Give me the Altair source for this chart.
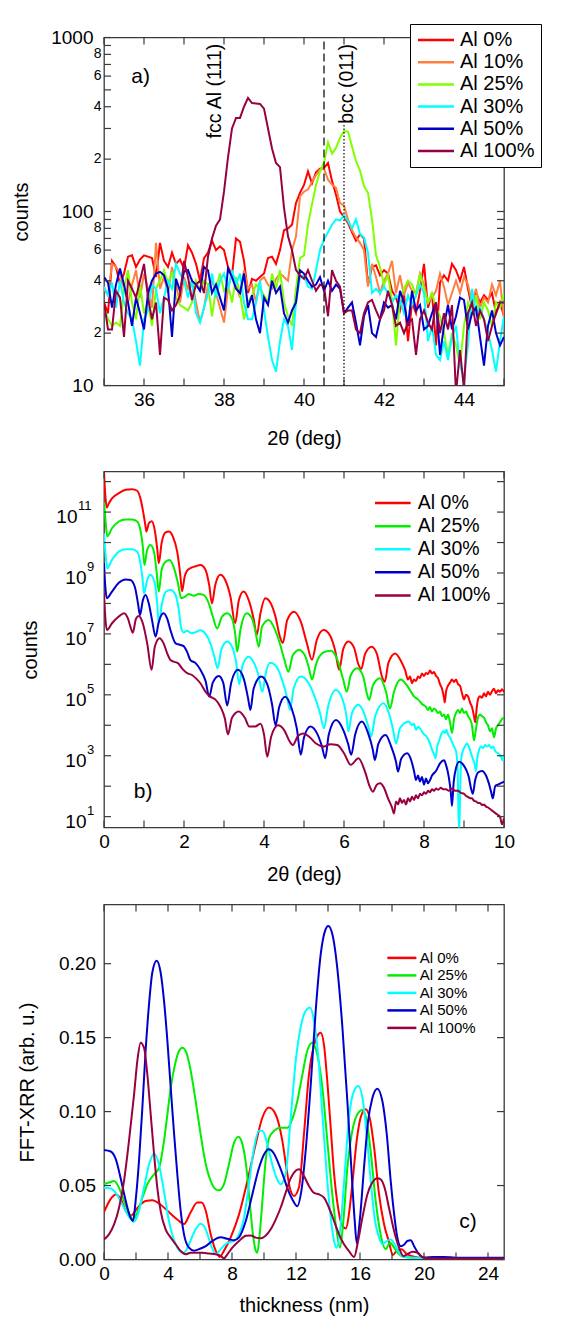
import altair as alt
import pandas as pd

FONT = "Liberation Sans"
FRAME = "#3a3a3a"
W = 400
HA, HB, HC = 348, 356, 355
TICK = 7

# ---------------- panel a : XRD around the (111)/(011) peaks ----------------
a_series = ["Al 0%", "Al 10%", "Al 25%", "Al 30%", "Al 50%", "Al 100%"]
a_colors = ["#ff0000", "#ff7f40", "#80ff00", "#00ffff", "#0000cc", "#990040"]
a_two_theta = [round(35.0 + 0.1 * i, 1) for i in range(101)]
a_al0 = [30, 26, 52, 48, 38, 44, 55, 56, 48, 53, 56, 55, 54, 42, 66, 52, 48, 58, 50, 53,
         47, 64, 58, 50, 40, 54, 58, 68, 60, 63, 60, 48, 43, 70, 67, 52, 34, 41, 40, 42,
         44, 54, 55, 50, 60, 78, 80, 84, 112, 128, 142, 170, 145, 168, 176, 178, 190, 150, 125, 100,
         93, 86, 76, 68, 74, 70, 38, 48, 49, 43, 46, 44, 35, 32, 27, 34, 18, 30, 26, 35,
         50, 28, 34, 17, 39, 43, 40, 50, 46, 40, 48, 36, 28, 34, 30, 33, 31, 34, 26, 30, 25]
a_al10 = [36, 33, 50, 48, 44, 36, 30, 38, 46, 32, 44, 36, 28, 66, 36, 42, 34, 48, 38, 30,
          42, 36, 40, 30, 23, 28, 38, 40, 34, 28, 23, 36, 44, 38, 32, 46, 36, 38, 30, 40,
          42, 38, 36, 41, 44, 42, 40, 60, 72, 122, 130, 134, 148, 162, 174, 176, 152, 143, 137, 112,
          108, 90, 78, 71, 66, 60, 37, 50, 42, 34, 40, 44, 52, 34, 43, 33, 39, 35, 34, 44,
          38, 30, 32, 35, 44, 37, 29, 34, 40, 34, 42, 38, 30, 36, 28, 32, 30, 38, 33, 40, 24]
a_al25 = [28, 24, 22, 23, 22, 36, 46, 30, 24, 38, 26, 30, 22, 36, 40, 46, 38, 45, 32, 29,
          28, 27, 30, 40, 35, 40, 38, 25, 36, 44, 35, 38, 30, 42, 34, 24, 30, 33, 38, 36,
          33, 30, 44, 36, 46, 30, 25, 22, 36, 54, 56, 84, 110, 142, 170, 190, 250, 215, 232, 265,
          290, 288, 236, 195, 172, 140, 128, 90, 56, 48, 38, 43, 31, 17, 32, 36, 40, 38, 33, 44,
          36, 30, 34, 28, 25, 20, 15, 20, 17, 13, 22, 30, 26, 33, 24, 30, 27, 22, 30, 28, 34]
a_al30 = [37, 33, 39, 28, 40, 30, 26, 24, 18, 13, 24, 27, 38, 36, 26, 32, 40, 36, 50, 44,
          40, 32, 40, 26, 23, 28, 34, 44, 32, 40, 44, 36, 46, 38, 44, 30, 24, 24, 30, 40,
          27, 19, 14, 12, 18, 24, 22, 16, 30, 42, 43, 37, 36, 46, 60, 69, 76, 84, 90, 89,
          95, 88, 80, 90, 74, 71, 58, 34, 36, 34, 37, 34, 30, 33, 31, 26, 33, 29, 33, 38,
          34, 18, 22, 15, 14, 18, 14, 19, 22, 13, 11, 17, 36, 26, 28, 24, 20, 16, 12, 18, 25]
a_al50 = [42, 39, 28, 38, 47, 38, 30, 22, 32, 26, 21, 34, 40, 44, 45, 43, 36, 19, 41, 35,
          45, 46, 40, 38, 35, 48, 46, 34, 38, 32, 27, 47, 42, 36, 34, 44, 28, 33, 24, 20,
          32, 29, 40, 34, 37, 26, 23, 27, 30, 46, 44, 40, 37, 38, 42, 35, 40, 35, 38, 36,
          26, 28, 30, 23, 17, 25, 29, 20, 19, 24, 30, 28, 29, 24, 35, 30, 22, 35, 27, 29,
          21, 22, 26, 30, 15, 22, 29, 21, 25, 32, 31, 21, 26, 28, 19, 13, 22, 27, 20, 17, 19]
a_al100 = [30, 21, 21, 35, 32, 19, 40, 36, 32, 40, 50, 32, 24, 30, 15, 32, 31, 27, 29, 33,
           52, 42, 31, 38, 40, 34, 55, 70, 83, 90, 130, 205, 300, 345, 345, 400, 450, 420, 418, 415,
           390, 300, 230, 190, 180, 105, 72, 60, 46, 43, 41, 46, 40, 35, 38, 37, 25, 46, 40, 37,
           26, 27, 27, 21, 20, 26, 30, 31, 27, 24, 27, 35, 29, 22, 23, 20, 23, 24, 15, 24,
           27, 23, 21, 30, 20, 26, 21, 29, 9, 16, 9.5, 26, 30, 22, 27, 24, 18, 22, 26, 30, 30]
a_xticks = [35, 36, 37, 38, 39, 40, 41, 42, 43, 44, 45]
a_yticks = [10, 20, 30, 40, 50, 60, 70, 80, 90, 100, 200, 300, 400, 500, 600, 700, 800, 900, 1000]
a_xlabels = [36, 38, 40, 42, 44]
a_ylabels = [10, 100, 1000]
a_minor_vals = [20, 40, 60, 80, 200, 400, 600, 800]
a_minor_text = ["2", "4", "6", "8", "2", "4", "6", "8"]
a_dash_x, a_dot_x = 40.5, 41.0

# ---------------- panel b : XRR, (2theta, log10 counts) ----------------
b_series = ["Al 0%", "Al 25%", "Al 30%", "Al 50%", "Al 100%"]
b_colors = ["#ff0000", "#00ee00", "#00ffff", "#0000cc", "#990040"]
b_al0 = [(0.0, 12.35), (0.03, 11.6), (0.07, 11.15), (0.12, 11.28), (0.2, 11.45), (0.37, 11.62), (0.54, 11.73),
         (0.7, 11.75), (0.83, 11.7), (0.91, 11.45), (0.98, 11.0), (1.03, 10.6), (1.06, 10.36), (1.12, 10.63),
         (1.19, 10.7), (1.27, 10.4), (1.33, 9.8), (1.37, 9.32), (1.44, 9.98), (1.54, 10.33), (1.62, 10.36),
         (1.72, 10.2), (1.83, 9.7), (1.91, 8.9), (1.95, 8.4), (2.02, 8.9), (2.08, 9.08), (2.16, 9.16),
         (2.29, 9.22), (2.41, 9.26), (2.54, 9.1), (2.63, 8.6), (2.7, 8.0), (2.78, 8.6), (2.91, 8.94),
         (3.03, 8.77), (3.16, 8.23), (3.28, 7.35), (3.37, 8.1), (3.49, 8.39), (3.62, 8.1), (3.74, 7.5),
         (3.82, 6.97), (3.91, 7.67), (4.03, 8.17), (4.15, 8.05), (4.28, 7.6), (4.4, 6.9), (4.47, 6.7),
         (4.58, 7.45), (4.75, 7.73), (4.92, 7.4), (5.07, 6.7), (5.2, 6.15), (5.32, 6.8), (5.49, 7.13),
         (5.65, 6.95), (5.78, 6.45), (5.88, 5.82), (5.98, 6.5), (6.11, 6.75), (6.25, 6.55), (6.36, 6.0),
         (6.43, 5.85), (6.53, 6.35), (6.69, 6.58), (6.82, 6.35), (6.95, 5.6), (7.02, 5.43), (7.11, 6.05),
         (7.28, 6.36), (7.42, 6.12), (7.53, 5.8), (7.6, 5.5), (7.65, 5.6), (7.7, 5.38), (7.75, 5.5),
         (7.8, 5.45), (7.85, 5.6), (7.9, 5.55), (7.95, 5.7), (8.0, 5.62), (8.05, 5.72), (8.1, 5.68),
         (8.15, 5.8), (8.2, 5.7), (8.25, 5.75), (8.3, 5.62), (8.35, 5.55), (8.4, 5.35), (8.45, 5.2),
         (8.5, 4.9), (8.52, 4.75), (8.55, 5.1), (8.6, 5.3), (8.65, 5.4), (8.7, 5.5), (8.75, 5.42),
         (8.8, 5.5), (8.85, 5.35), (8.9, 5.3), (8.95, 5.05), (9.0, 4.85), (9.05, 5.0), (9.1, 4.95),
         (9.15, 4.75), (9.2, 4.6), (9.25, 4.3), (9.28, 4.1), (9.32, 4.6), (9.35, 4.85), (9.4, 4.95),
         (9.45, 4.9), (9.5, 5.05), (9.55, 4.95), (9.6, 5.1), (9.65, 5.0), (9.7, 5.12), (9.75, 5.2),
         (9.8, 5.05), (9.85, 5.15), (9.9, 5.1), (9.95, 5.18), (10.0, 5.08)]
b_al25 = [(0.0, 11.34), (0.04, 10.7), (0.08, 10.2), (0.2, 10.47), (0.37, 10.69), (0.54, 10.76), (0.7, 10.76),
          (0.83, 10.69), (0.91, 10.41), (0.97, 9.87), (1.01, 9.26), (1.08, 9.76), (1.16, 9.92), (1.25, 9.7),
          (1.31, 9.1), (1.37, 8.39), (1.44, 9.1), (1.54, 9.37), (1.64, 9.43), (1.74, 9.2), (1.85, 8.66),
          (1.93, 8.17), (2.02, 8.22), (2.12, 8.31), (2.24, 8.25), (2.37, 8.31), (2.49, 8.28), (2.62, 8.0),
          (2.72, 7.57), (2.83, 7.18), (2.95, 7.57), (3.08, 7.68), (3.2, 7.5), (3.28, 7.0), (3.33, 6.42),
          (3.41, 7.13), (3.57, 7.68), (3.7, 7.5), (3.78, 7.13), (3.87, 6.58), (3.95, 7.24), (4.12, 7.46),
          (4.24, 7.24), (4.37, 6.8), (4.5, 6.2), (4.61, 5.76), (4.72, 6.3), (4.88, 6.47), (5.02, 6.3),
          (5.12, 5.9), (5.2, 5.5), (5.3, 6.0), (5.5, 6.4), (5.68, 6.45), (5.85, 6.1), (5.98, 5.5),
          (6.07, 5.1), (6.17, 5.65), (6.33, 5.87), (6.48, 5.6), (6.58, 5.0), (6.63, 4.83), (6.72, 5.3),
          (6.9, 5.54), (7.05, 5.1), (7.15, 4.55), (7.25, 5.1), (7.42, 5.5), (7.55, 5.35), (7.65, 5.15),
          (7.75, 4.95), (7.85, 4.85), (7.95, 4.7), (8.05, 4.6), (8.1, 4.5), (8.15, 4.6), (8.2, 4.45),
          (8.25, 4.55), (8.3, 4.5), (8.35, 4.4), (8.4, 4.45), (8.45, 4.3), (8.5, 4.35), (8.55, 4.2),
          (8.6, 4.35), (8.65, 4.1), (8.7, 3.75), (8.75, 4.2), (8.8, 4.4), (8.85, 4.5), (8.9, 4.4),
          (8.95, 4.55), (9.0, 4.4), (9.05, 4.45), (9.1, 4.3), (9.15, 4.2), (9.2, 4.0), (9.25, 3.5),
          (9.3, 3.9), (9.35, 4.25), (9.4, 4.35), (9.45, 4.3), (9.5, 4.25), (9.55, 4.1), (9.6, 4.0),
          (9.65, 3.8), (9.7, 3.9), (9.75, 3.6), (9.8, 3.9), (9.85, 4.0), (9.9, 4.1), (9.95, 4.2), (10.0, 4.25)]
b_al30 = [(0.0, 10.3), (0.04, 9.6), (0.08, 9.15), (0.2, 9.43), (0.37, 9.7), (0.54, 9.78), (0.7, 9.78),
          (0.83, 9.7), (0.91, 9.32), (0.97, 8.72), (1.0, 8.33), (1.08, 8.77), (1.16, 8.94), (1.27, 8.66),
          (1.33, 8.0), (1.37, 7.35), (1.45, 8.0), (1.55, 8.39), (1.66, 8.44), (1.79, 8.28), (1.87, 7.79),
          (1.93, 7.2), (1.99, 7.05), (2.08, 7.1), (2.18, 7.02), (2.29, 7.06), (2.41, 7.12), (2.54, 7.0),
          (2.66, 6.69), (2.76, 6.25), (2.84, 5.87), (2.93, 6.47), (3.08, 6.75), (3.2, 6.58), (3.3, 6.1),
          (3.38, 5.35), (3.46, 5.95), (3.62, 6.25), (3.75, 6.05), (3.85, 5.7), (3.96, 5.1), (4.05, 5.75),
          (4.16, 6.05), (4.3, 5.95), (4.45, 5.5), (4.58, 4.9), (4.65, 4.5), (4.74, 5.2), (4.92, 5.6),
          (5.08, 5.45), (5.25, 5.0), (5.4, 4.4), (5.5, 3.9), (5.6, 4.6), (5.8, 5.16), (5.95, 4.9),
          (6.05, 4.4), (6.11, 3.8), (6.2, 4.4), (6.36, 4.67), (6.5, 4.4), (6.62, 3.9), (6.68, 3.63),
          (6.78, 4.3), (6.99, 4.72), (7.12, 4.4), (7.22, 3.9), (7.3, 3.4), (7.4, 3.9), (7.62, 4.12),
          (7.7, 4.0), (7.75, 4.05), (7.8, 3.85), (7.85, 3.95), (7.9, 3.9), (7.95, 3.8), (8.0, 3.7),
          (8.05, 3.65), (8.1, 3.55), (8.15, 3.4), (8.2, 3.2), (8.25, 3.05), (8.29, 2.92), (8.33, 3.3),
          (8.38, 3.5), (8.43, 3.7), (8.48, 3.8), (8.52, 3.75), (8.56, 3.85), (8.6, 3.7), (8.65, 3.6),
          (8.7, 3.45), (8.75, 3.3), (8.8, 3.15), (8.84, 2.6), (8.86, 1.2), (8.88, 0.5), (8.9, 1.6),
          (8.93, 2.9), (8.97, 3.15), (9.02, 3.3), (9.08, 3.4), (9.12, 3.3), (9.17, 3.1), (9.22, 2.9),
          (9.27, 2.7), (9.3, 2.5), (9.33, 2.9), (9.38, 3.2), (9.43, 3.3), (9.48, 3.25), (9.53, 3.35),
          (9.58, 3.3), (9.63, 3.35), (9.68, 3.25), (9.73, 3.3), (9.78, 3.15), (9.83, 3.1), (9.88, 3.05),
          (9.93, 2.95), (9.97, 2.85), (10.0, 3.0)]
b_al50 = [(0.0, 9.32), (0.03, 8.6), (0.07, 8.17), (0.2, 8.39), (0.37, 8.68), (0.54, 8.79), (0.66, 8.77),
          (0.77, 8.55), (0.85, 8.0), (0.9, 7.62), (0.97, 8.1), (1.04, 8.28), (1.12, 8.0), (1.2, 7.46),
          (1.29, 6.91), (1.37, 7.4), (1.49, 7.68), (1.58, 7.5), (1.66, 7.13), (1.79, 6.69), (1.88, 6.65),
          (1.99, 6.6), (2.08, 6.4), (2.16, 6.14), (2.29, 6.04), (2.41, 5.82), (2.54, 5.45), (2.63, 4.94),
          (2.72, 5.4), (2.87, 5.62), (2.98, 5.4), (3.08, 4.65), (3.18, 5.4), (3.35, 5.82), (3.5, 5.5),
          (3.6, 4.9), (3.66, 4.5), (3.74, 5.2), (3.93, 5.6), (4.08, 5.35), (4.2, 4.7), (4.29, 4.0),
          (4.38, 4.6), (4.53, 4.94), (4.68, 4.6), (4.82, 3.9), (4.92, 3.03), (5.0, 3.6), (5.16, 3.96),
          (5.32, 3.75), (5.45, 3.3), (5.53, 2.92), (5.62, 3.7), (5.8, 4.17), (5.98, 3.85), (6.1, 3.4),
          (6.18, 3.03), (6.28, 3.7), (6.45, 4.12), (6.6, 3.75), (6.72, 3.2), (6.77, 2.86), (6.86, 3.4),
          (7.04, 3.68), (7.18, 3.3), (7.3, 2.8), (7.35, 2.48), (7.43, 2.9), (7.58, 3.08), (7.68, 2.85),
          (7.75, 2.5), (7.8, 2.2), (7.85, 2.35), (7.9, 2.15), (7.95, 2.3), (8.0, 2.05), (8.05, 2.25),
          (8.1, 2.1), (8.15, 2.2), (8.2, 2.35), (8.3, 2.5), (8.4, 2.75), (8.5, 2.85), (8.55, 2.7),
          (8.62, 2.3), (8.67, 1.8), (8.7, 1.35), (8.74, 2.1), (8.8, 2.6), (8.88, 2.8), (8.95, 2.75),
          (9.05, 2.55), (9.12, 2.3), (9.18, 1.9), (9.22, 1.75), (9.28, 2.2), (9.35, 2.45), (9.45, 2.5),
          (9.55, 2.35), (9.62, 2.1), (9.68, 1.8), (9.72, 1.6), (9.78, 2.0), (9.85, 2.05), (9.92, 2.1),
          (10.0, 2.15)]
b_al100 = [(0.0, 8.33), (0.03, 7.6), (0.07, 7.13), (0.2, 7.35), (0.37, 7.57), (0.5, 7.68), (0.6, 7.5),
           (0.66, 7.24), (0.72, 7.04), (0.8, 7.5), (0.87, 7.59), (0.97, 7.35), (1.08, 6.69), (1.19, 5.82),
           (1.27, 6.58), (1.39, 6.86), (1.49, 6.69), (1.58, 6.36), (1.66, 6.14), (1.74, 6.09), (1.85, 6.04),
           (1.95, 5.87), (2.08, 5.71), (2.2, 5.65), (2.3, 5.54), (2.41, 5.38), (2.54, 5.1), (2.66, 4.94),
           (2.78, 4.85), (2.91, 4.61), (3.02, 4.23), (3.1, 3.7), (3.2, 4.25), (3.37, 4.45), (3.52, 4.25),
           (3.63, 3.96), (3.78, 3.96), (3.91, 4.05), (4.0, 3.7), (4.08, 2.97), (4.18, 3.63), (4.35, 4.0),
           (4.5, 3.85), (4.65, 3.45), (4.72, 3.35), (4.85, 3.65), (4.98, 3.73), (5.15, 3.6), (5.3, 3.4),
           (5.5, 3.3), (5.65, 3.38), (5.83, 3.35), (6.0, 3.08), (6.17, 2.7), (6.36, 2.92), (6.54, 2.42),
           (6.64, 2.0), (6.72, 1.82), (6.82, 2.05), (6.9, 2.1), (7.0, 1.95), (7.1, 1.6), (7.2, 1.3),
           (7.25, 1.1), (7.3, 1.5), (7.35, 1.4), (7.4, 1.6), (7.45, 1.45), (7.5, 1.55), (7.55, 1.4),
           (7.6, 1.6), (7.65, 1.5), (7.7, 1.65), (7.75, 1.55), (7.8, 1.7), (7.85, 1.6), (7.9, 1.75),
           (7.95, 1.7), (8.0, 1.8), (8.05, 1.75), (8.1, 1.85), (8.15, 1.8), (8.2, 1.9), (8.25, 1.85),
           (8.3, 1.92), (8.36, 1.88), (8.42, 1.95), (8.48, 1.9), (8.55, 1.9), (8.62, 1.85), (8.7, 1.92),
           (8.78, 1.85), (8.85, 1.85), (8.92, 1.78), (9.0, 1.75), (9.05, 1.68), (9.1, 1.65), (9.15, 1.6),
           (9.2, 1.6), (9.25, 1.52), (9.3, 1.5), (9.35, 1.45), (9.4, 1.45), (9.45, 1.38), (9.5, 1.4),
           (9.55, 1.33), (9.6, 1.3), (9.65, 1.25), (9.7, 1.2), (9.75, 1.15), (9.8, 1.1), (9.85, 1.05),
           (9.9, 1.0), (9.95, 0.75), (10.0, 0.95)]
b_xticks = [0, 1, 2, 3, 4, 5, 6, 7, 8, 9, 10]
b_yticks = [1e1, 1e2, 1e3, 1e4, 1e5, 1e6, 1e7, 1e8, 1e9, 1e10, 1e11, 1e12]
b_xlabels = [0, 2, 4, 6, 8, 10]
b_lab_two = [1e11]
b_lab_two_exp = ["11"]
b_lab_one = [1e9, 1e7, 1e5, 1e3, 1e1]
b_lab_one_exp = ["9", "7", "5", "3", "1"]

# ---------------- panel c : FFT of XRR, (thickness nm, amplitude) ----------------
c_series = ["Al 0%", "Al 25%", "Al 30%", "Al 50%", "Al 100%"]
c_colors = ["#ff0000", "#00ee00", "#00ffff", "#0000cc", "#990040"]
c_al0 = [(0, 0.032), (0.42, 0.041), (0.73, 0.044), (1.04, 0.041), (1.35, 0.033), (1.67, 0.0295), (2.1, 0.035),
         (2.6, 0.0395), (3.02, 0.040), (3.54, 0.037), (4.06, 0.032), (4.58, 0.027), (5.0, 0.024), (5.42, 0.032),
         (5.83, 0.0385), (6.1, 0.0385), (6.36, 0.033), (6.67, 0.017), (6.98, 0.006), (7.23, 0.0017), (7.5, 0.006),
         (7.92, 0.015), (8.44, 0.0305), (8.96, 0.053), (9.48, 0.078), (9.9, 0.096), (10.31, 0.1027), (10.73, 0.098),
         (11.15, 0.080), (11.4, 0.062), (11.65, 0.047), (11.88, 0.043), (12.19, 0.049), (12.5, 0.085), (12.81, 0.125),
         (13.13, 0.145), (13.38, 0.152), (13.54, 0.1533), (13.75, 0.145), (13.96, 0.120), (14.17, 0.089),
         (14.38, 0.058), (14.63, 0.035), (14.9, 0.0227), (15.12, 0.021), (15.3, 0.030), (15.52, 0.051),
         (15.79, 0.080), (16.04, 0.096), (16.35, 0.1015), (16.6, 0.096), (16.88, 0.076), (17.19, 0.044),
         (17.5, 0.024), (17.81, 0.012), (18.05, 0.003), (18.3, 0.006), (18.6, 0.007), (18.9, 0.004),
         (19.3, 0.002), (20.0, 0.001), (21, 0.0008), (22, 0.0008), (23, 0.0008), (24, 0.0008), (25, 0.0008)]
c_al25 = [(0, 0.051), (0.31, 0.052), (0.63, 0.053), (0.94, 0.0485), (1.25, 0.0396), (1.56, 0.0317), (1.81, 0.027),
          (2.08, 0.0317), (2.4, 0.0418), (2.71, 0.0509), (3.13, 0.0576), (3.44, 0.062), (3.75, 0.080), (3.96, 0.098),
          (4.17, 0.116), (4.44, 0.132), (4.69, 0.141), (4.9, 0.1432), (5.15, 0.1398), (5.42, 0.1275), (5.73, 0.107),
          (6.04, 0.0846), (6.36, 0.0644), (6.67, 0.053), (6.98, 0.0475), (7.19, 0.0468), (7.5, 0.051), (7.81, 0.0644),
          (8.13, 0.079), (8.4, 0.083), (8.65, 0.078), (8.9, 0.062), (9.1, 0.0396), (9.31, 0.017), (9.48, 0.006),
          (9.58, 0.0046), (9.73, 0.017), (9.9, 0.0396), (10.1, 0.0666), (10.31, 0.082), (10.63, 0.087),
          (11.04, 0.089), (11.46, 0.089), (11.77, 0.095), (12.08, 0.107), (12.4, 0.125), (12.7, 0.141),
          (13.02, 0.1466), (13.33, 0.1386), (13.65, 0.116), (13.96, 0.080), (14.27, 0.044), (14.54, 0.0193),
          (14.75, 0.008), (14.96, 0.026), (15.21, 0.062), (15.52, 0.087), (15.83, 0.098), (16.15, 0.101),
          (16.42, 0.0937), (16.67, 0.073), (16.98, 0.0396), (17.29, 0.017), (17.6, 0.007), (17.88, 0.0113),
          (18.13, 0.008), (18.44, 0.0035), (18.75, 0.0017), (19.38, 0.0012), (20, 0.001), (21, 0.001),
          (22, 0.001), (23, 0.001), (24, 0.001), (25, 0.001)]
c_al30 = [(0, 0.0485), (0.42, 0.048), (0.73, 0.045), (1.15, 0.037), (1.56, 0.029), (1.88, 0.0256), (2.19, 0.033),
          (2.5, 0.0485), (2.81, 0.064), (3.13, 0.0716), (3.44, 0.064), (3.75, 0.046), (4.06, 0.026), (4.48, 0.0103),
          (4.79, 0.0053), (5.0, 0.0046), (5.31, 0.0103), (5.73, 0.0204), (6.04, 0.0242), (6.36, 0.0204),
          (6.67, 0.0103), (6.98, 0.0035), (7.29, 0.007), (7.71, 0.0113), (8.13, 0.0125), (8.44, 0.017),
          (8.75, 0.028), (9.06, 0.051), (9.38, 0.0756), (9.69, 0.087), (9.9, 0.087), (10.21, 0.078), (10.52, 0.064),
          (10.83, 0.054), (11.04, 0.0509), (11.35, 0.0576), (11.67, 0.0958), (11.98, 0.134), (12.29, 0.157),
          (12.6, 0.168), (12.88, 0.1703), (13.13, 0.161), (13.38, 0.1386), (13.65, 0.098), (13.92, 0.0576),
          (14.17, 0.0283), (14.38, 0.0125), (14.54, 0.008), (14.75, 0.0193), (15.04, 0.0576), (15.31, 0.0958),
          (15.63, 0.114), (15.9, 0.1173), (16.15, 0.1094), (16.42, 0.0846), (16.67, 0.053), (16.94, 0.026),
          (17.19, 0.0148), (17.4, 0.0103), (17.67, 0.0125), (17.92, 0.0136), (18.17, 0.0103), (18.44, 0.0046),
          (18.75, 0.0017), (19.38, 0.0012), (20, 0.001), (21, 0.001), (22, 0.001), (23, 0.001), (24, 0.001),
          (25, 0.001)]
c_al50 = [(0, 0.074), (0.42, 0.073), (0.73, 0.068), (1.04, 0.055), (1.35, 0.040), (1.67, 0.028), (1.81, 0.026),
          (1.98, 0.04), (2.19, 0.067), (2.4, 0.103), (2.6, 0.141), (2.81, 0.172), (3.02, 0.194), (3.29, 0.202),
          (3.54, 0.194), (3.75, 0.175), (3.96, 0.148), (4.17, 0.116), (4.38, 0.085), (4.58, 0.058), (4.79, 0.033),
          (5.0, 0.017), (5.31, 0.008), (5.63, 0.006), (5.94, 0.007), (6.36, 0.009), (6.77, 0.0125), (7.29, 0.015),
          (7.71, 0.014), (8.13, 0.013), (8.44, 0.015), (8.86, 0.026), (9.27, 0.044), (9.69, 0.062), (10.0, 0.071),
          (10.3, 0.0745), (10.6, 0.072), (10.94, 0.064), (11.25, 0.055), (11.5, 0.047), (11.8, 0.040),
          (12.08, 0.036), (12.33, 0.046), (12.6, 0.073), (12.92, 0.118), (13.23, 0.168), (13.54, 0.206),
          (13.81, 0.222), (14.02, 0.2255), (14.27, 0.22), (14.58, 0.197), (14.9, 0.157), (15.21, 0.107),
          (15.48, 0.058), (15.67, 0.026), (15.8, 0.011), (16.0, 0.028), (16.25, 0.062), (16.5, 0.093),
          (16.77, 0.109), (17.08, 0.1155), (17.4, 0.107), (17.67, 0.085), (17.92, 0.053), (18.13, 0.031),
          (18.33, 0.015), (18.54, 0.009), (18.75, 0.010), (18.96, 0.0125), (19.17, 0.013), (19.38, 0.009),
          (19.69, 0.0035), (20.0, 0.0013), (20.6, 0.0017), (21.25, 0.0017), (22, 0.0012), (23, 0.0012),
          (24, 0.0012), (25, 0.0012)]
c_al100 = [(0, 0.0136), (0.31, 0.017), (0.63, 0.0237), (0.94, 0.035), (1.25, 0.053), (1.56, 0.080), (1.88, 0.1117),
           (2.08, 0.134), (2.29, 0.1466), (2.5, 0.1432), (2.71, 0.125), (2.92, 0.098), (3.13, 0.071), (3.33, 0.0486),
           (3.54, 0.0328), (3.85, 0.0204), (4.17, 0.0148), (4.48, 0.0103), (4.79, 0.0057), (5.1, 0.0035),
           (5.42, 0.0046), (5.73, 0.0046), (6.15, 0.0046), (6.56, 0.004), (6.98, 0.0035), (7.29, 0.0024),
           (7.5, 0.0008), (7.71, 0.0035), (8.02, 0.008), (8.44, 0.0125), (8.86, 0.016), (9.17, 0.0163),
           (9.48, 0.0148), (9.79, 0.0143), (10.1, 0.016), (10.42, 0.0204), (10.73, 0.027), (11.04, 0.035),
           (11.35, 0.045), (11.67, 0.055), (11.98, 0.060), (12.19, 0.061), (12.5, 0.0564), (12.81, 0.0497),
           (13.13, 0.045), (13.44, 0.044), (13.75, 0.0418), (14.06, 0.035), (14.38, 0.026), (14.69, 0.017),
           (15.0, 0.0103), (15.31, 0.0057), (15.63, 0.0017), (15.88, 0.0125), (16.15, 0.0283), (16.46, 0.044),
           (16.77, 0.052), (17.08, 0.0549), (17.29, 0.0542), (17.54, 0.0485), (17.81, 0.035), (18.13, 0.0193),
           (18.44, 0.008), (18.71, 0.0024), (18.96, 0.0035), (19.27, 0.0053), (19.6, 0.0046), (19.9, 0.0017),
           (20.3, 0.0008), (21, 0.0007), (22, 0.0007), (23, 0.0007), (24, 0.0007), (25, 0.0007)]
c_xticks = [0, 2, 4, 6, 8, 10, 12, 14, 16, 18, 20, 22, 24]
c_yticks = [0.0, 0.05, 0.10, 0.15, 0.20]
c_xlabels = [0, 4, 8, 12, 16, 20, 24]
c_ylabels = [0.0, 0.05, 0.10, 0.15, 0.20]


# ---------------- helpers ----------------
class Panel:
    def __init__(self, xsc, ysc, xax, yax):
        self.xsc, self.ysc, self.xax, self.yax = xsc, ysc, xax, yax

    def X(self, field="x:Q"):
        return alt.X(field, scale=self.xsc, axis=self.xax)

    def Y(self, field="y:Q"):
        return alt.Y(field, scale=self.ysc, axis=self.yax)


def frame_ticks(p, xs, ys, w, h):
    dx = pd.DataFrame({"x": xs})
    dy = pd.DataFrame({"y": ys})
    st = dict(color=FRAME, strokeWidth=1.2)
    return [
        alt.Chart(dx).mark_rule(**st).encode(x=p.X(), y=alt.value(h - TICK), y2=alt.value(h)),
        alt.Chart(dx).mark_rule(**st).encode(x=p.X(), y=alt.value(0), y2=alt.value(TICK)),
        alt.Chart(dy).mark_rule(**st).encode(y=p.Y(), x=alt.value(0), x2=alt.value(TICK)),
        alt.Chart(dy).mark_rule(**st).encode(y=p.Y(), x=alt.value(w - TICK), x2=alt.value(w)),
    ]


def spacer(h):
    return alt.Chart(pd.DataFrame({"k": [0]})).mark_rule(opacity=0, strokeWidth=0).encode(
        x=alt.value(0), x2=alt.value(1), y=alt.value(h - 2), y2=alt.value(h))


def series_lines(p, df, names, csc, legend, interp):
    out = []
    for s in names:
        out.append(
            alt.Chart(df).transform_filter(alt.datum.series == s)
            .mark_line(strokeWidth=2, clip=True, interpolate=interp)
            .encode(x=p.X(), y=p.Y(),
                    color=alt.Color("series:N", scale=csc, legend=legend),
                    order="i:Q")
        )
    return out


def line_legend(x, y, length, font_size, row_pad, pad, gap, boxed):
    r = length / 6.0          # custom path spans -3..3 in units of r = sqrt(size)/2
    kw = dict(title=None, orient="none", legendX=x - pad, legendY=y, symbolType="M-3,0H3",
              symbolSize=(2 * r) ** 2, symbolStrokeWidth=2.5, symbolOffset=2 * r - 2,
              labelFontSize=font_size, labelOffset=gap + 2 * r - 5, rowPadding=row_pad,
              padding=pad, labelLimit=300)
    if boxed:
        kw.update(strokeColor="black", fillColor="white")
    return alt.Legend(**kw)


# ---------------- panel a ----------------
rows = []
for name, vals in zip(a_series, [a_al0, a_al10, a_al25, a_al30, a_al50, a_al100]):
    for i, (x, v) in enumerate(zip(a_two_theta, vals)):
        rows.append({"series": name, "x": x, "y": v, "i": i})
df_a = pd.DataFrame(rows)

pa = Panel(
    alt.Scale(domain=[35, 45], nice=False, zero=False),
    alt.Scale(type="log", domain=[10, 1000], nice=False),
    alt.Axis(values=a_xlabels, title="2θ (deg)", labelPadding=5, titleX=W / 2, titleY=53,
             titleBaseline="middle", titleAlign="center"),
    alt.Axis(values=a_ylabels, format="d", title="counts", labelPadding=11, titleX=-82.5,
             titleY=HA / 2, titleBaseline="middle", titleAlign="center", titleAngle=270),
)
ca = alt.Scale(domain=a_series, range=a_colors)
leg_a = line_legend(312, -13.5, 36, 20, 2.2, 6, 7, True)

dash_a = alt.Chart(pd.DataFrame({"x": [a_dash_x], "y": [10], "y2": [1000]})).mark_rule(
    color="black", strokeWidth=1.2, strokeDash=[8, 4]).encode(x=pa.X(), y=pa.Y(), y2="y2:Q")
dot_a = alt.Chart(pd.DataFrame({"x": [a_dot_x], "y": [10], "y2": [316]})).mark_rule(
    color="black", strokeWidth=1.2, strokeDash=[1.5, 2]).encode(x=pa.X(), y=pa.Y(), y2="y2:Q")
minor_a = alt.Chart(pd.DataFrame({"y": a_minor_vals, "t": a_minor_text})).mark_text(
    align="right", baseline="middle", fontSize=14).encode(y=pa.Y(), x=alt.value(-2.5), text="t:N")
rot_a = alt.Chart(pd.DataFrame({"x": [37.78, 41.07], "y": [263, 319],
                                "t": ["fcc Al (111)", "bcc (011)"]})).mark_text(
    angle=270, align="left", baseline="middle", fontSize=19.5).encode(x=pa.X(), y=pa.Y(), text="t:N")
tag_a = alt.Chart(pd.DataFrame({"x": [35.68], "y": [590], "t": ["a)"]})).mark_text(
    align="left", baseline="middle", fontSize=21).encode(x=pa.X(), y=pa.Y(), text="t:N")

panel_a = alt.layer(
    *series_lines(pa, df_a, a_series, ca, leg_a, "linear"),
    dash_a, dot_a, *frame_ticks(pa, a_xticks, a_yticks, W, HA), minor_a, rot_a, tag_a, spacer(HA + 83)
).properties(width=W, height=HA)

# ---------------- panel b ----------------
rows = []
for name, pairs in zip(b_series, [b_al0, b_al25, b_al30, b_al50, b_al100]):
    for i, (x, L) in enumerate(pairs):
        rows.append({"series": name, "x": x, "y": 10 ** L, "i": i})
df_b = pd.DataFrame(rows)

pb = Panel(
    alt.Scale(domain=[0, 10], nice=False, zero=False),
    alt.Scale(type="log", domain=[4.4, 2.15e12], nice=False),
    alt.Axis(values=b_xlabels, title="2θ (deg)", labelPadding=5, titleX=W / 2, titleY=46.5,
             titleBaseline="middle", titleAlign="center"),
    alt.Axis(labels=False, title="counts", titleX=-73.5, titleY=HB / 2,
             titleBaseline="middle", titleAlign="center", titleAngle=270),
)
cb = alt.Scale(domain=b_series, range=b_colors)
leg_b = line_legend(269.2, 21.8, 35.6, 19.5, 2.1, 0, 8.4, False)


def power_labels(p, vals, exps, anchor):
    base = alt.Chart(pd.DataFrame({"y": vals, "t": ["10"] * len(vals)})).mark_text(
        align="right", baseline="middle", fontSize=19, dy=5).encode(y=p.Y(), x=alt.value(anchor), text="t:N")
    sup = alt.Chart(pd.DataFrame({"y": vals, "t": exps})).mark_text(
        align="left", baseline="middle", fontSize=13, dy=-6).encode(y=p.Y(), x=alt.value(anchor + 0.5), text="t:N")
    return [base, sup]


tag_b = alt.Chart(pd.DataFrame({"x": [0.744], "y": [65], "t": ["b)"]})).mark_text(
    align="left", baseline="middle", fontSize=21).encode(x=pb.X(), y=pb.Y(), text="t:N")

panel_b = alt.layer(
    *series_lines(pb, df_b, b_series, cb, leg_b, "monotone"),
    *frame_ticks(pb, b_xticks, b_yticks, W, HB),
    *power_labels(pb, b_lab_two, b_lab_two_exp, -26.5),
    *power_labels(pb, b_lab_one, b_lab_one_exp, -17.5),
    tag_b, spacer(HB + 74)
).properties(width=W, height=HB)

# ---------------- panel c ----------------
rows = []
for name, pairs in zip(c_series, [c_al0, c_al25, c_al30, c_al50, c_al100]):
    for i, (x, v) in enumerate(pairs):
        rows.append({"series": name, "x": x, "y": v, "i": i})
df_c = pd.DataFrame(rows)

pc = Panel(
    alt.Scale(domain=[0, 25], nice=False, zero=False),
    alt.Scale(domain=[0, 0.24], nice=False, zero=False),
    alt.Axis(values=c_xlabels, title="thickness (nm)", labelPadding=5, titleX=W / 2, titleY=45.5,
             titleBaseline="middle", titleAlign="center"),
    alt.Axis(values=c_ylabels, format=".2f", title="FFT-XRR (arb. u.)", labelPadding=8.5,
             titleX=-76.5, titleY=HC / 2, titleBaseline="middle", titleAlign="center", titleAngle=270),
)
cc = alt.Scale(domain=c_series, range=c_colors)
leg_c = line_legend(282.7, 45.9, 29, 15, 1.5, 0, 5.7, False)
tag_c = alt.Chart(pd.DataFrame({"x": [22.2], "y": [0.0254], "t": ["c)"]})).mark_text(
    align="left", baseline="middle", fontSize=21).encode(x=pc.X(), y=pc.Y(), text="t:N")

panel_c = alt.layer(
    *series_lines(pc, df_c, c_series, cc, leg_c, "monotone"),
    *frame_ticks(pc, c_xticks, c_yticks, W, HC), tag_c
).properties(width=W, height=HC)

chart = (
    alt.vconcat(panel_a, panel_b, panel_c, spacing=0)
    .resolve_scale(x="independent", y="independent", color="independent")
    .resolve_legend(color="independent")
    .properties(padding={"left": 2, "top": 14.5, "right": 5, "bottom": 5})
    .configure_view(stroke=FRAME, strokeWidth=1.3)
    .configure_axis(labelFont=FONT, titleFont=FONT, labelFontSize=19, titleFontSize=20,
                    labelColor="black", titleColor="black", titleFontWeight="normal",
                    ticks=False, domain=False, grid=False, labelOverlap=False, labelFlush=False)
    .configure_legend(labelFont=FONT, labelColor="black")
    .configure_text(font=FONT, color="black")
)

chart.save("out.html", embed_options={"renderer": "svg", "actions": False})
